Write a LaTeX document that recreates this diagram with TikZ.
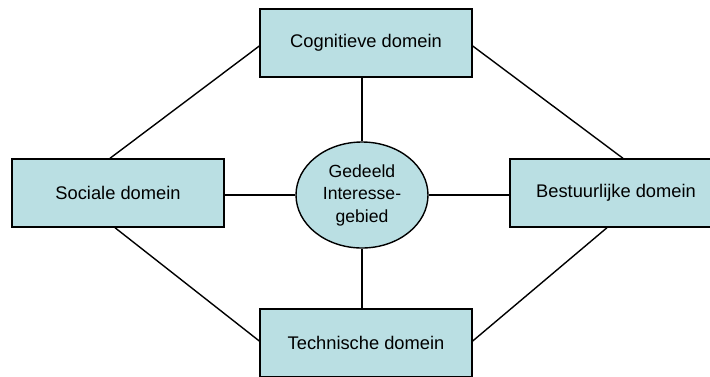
\documentclass[tikz,border=0pt]{standalone}
\usepackage{fontspec}
\setmainfont{Liberation Sans}
\usetikzlibrary{shapes.geometric,calc}
\definecolor{domfill}{RGB}{186,223,227}
\begin{document}
\begin{tikzpicture}[x=1pt,y=-1pt,
  dombox/.style={draw=black,line width=1.4pt,fill=domfill,rectangle,
    minimum width=212pt,minimum height=68pt,inner sep=0pt,
    font=\fontsize{18.3}{22}\selectfont},
  corebox/.style={draw=black,line width=1.4pt,fill=domfill,ellipse,
    minimum width=132pt,minimum height=106pt,inner sep=0pt,align=center,
    font=\fontsize{17.6}{22.5}\selectfont},
  linkline/.style={line width=1.4pt}]
\useasboundingbox (0,0) rectangle (710,376);
\node[dombox] (cog) at (366,43) {Cognitieve domein};
\node[dombox] (soc) at (118,193) {Sociale domein};
\node[dombox] (bes) at (616,193) {Bestuurlijke domein};
\node[dombox] (tec) at (366,343) {Technische domein};
\node[corebox] (mid) at (362,195) {Gedeeld\\Interesse-\\gebied};
% spokes from the shared area to each domain
\draw[linkline] (mid.north) -- (mid.north |- cog.south);
\draw[linkline] (mid.south) -- (mid.south |- tec.north);
\draw[linkline] (mid.west) -- (mid.west -| soc.east);
\draw[linkline] (mid.east) -- (mid.east -| bes.west);
% outer ring between neighbouring domains
\draw[linkline] ([yshift=-3pt]cog.west) -- ([xshift=-8pt]soc.north);
\draw[linkline] ([yshift=-3pt]cog.east) -- ([xshift=7pt]bes.north);
\draw[linkline] ([xshift=-3pt]soc.south) -- ([yshift=2pt]tec.west);
\draw[linkline] ([xshift=-9pt]bes.south) -- ([yshift=2pt]tec.east);
\end{tikzpicture}
\end{document}
